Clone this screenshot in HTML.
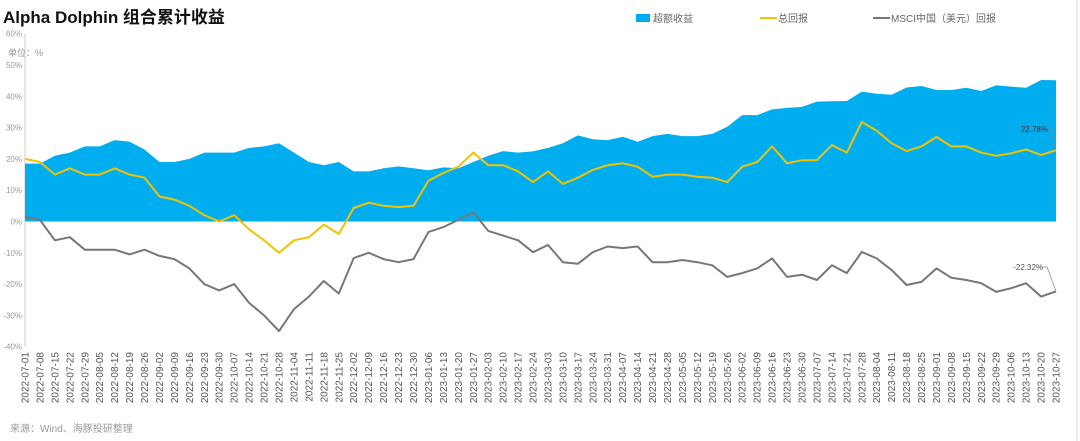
<!DOCTYPE html>
<html><head><meta charset="utf-8"><style>
body{margin:0;background:#fff;}
svg{display:block;font-family:"Liberation Sans","Noto Sans CJK SC",sans-serif;}
</style></head><body>
<svg width="1080" height="441" viewBox="0 0 1080 441">
<text x="3" y="23" font-size="17" font-weight="bold" fill="#111">Alpha Dolphin 组合累计收益</text>
<text x="8" y="56" font-size="9" fill="#999">单位：%</text>
<line x1="1077" y1="0" x2="1077" y2="441" stroke="#ddd"/>
<g>
<rect x="636" y="14" width="14" height="8" fill="#00aeef"/>
<text x="653" y="22" font-size="10" fill="#666">超额收益</text>
<line x1="760" y1="18" x2="777" y2="18" stroke="#f2c300" stroke-width="2"/>
<text x="778" y="22" font-size="10" fill="#666">总回报</text>
<line x1="873" y1="18" x2="890" y2="18" stroke="#777" stroke-width="2"/>
<text x="891" y="22" font-size="10" fill="#666">MSCI中国（美元）回报</text>
</g>
<g id="yaxis"></g>
<g id="plot"></g>
<g id="xaxis"></g>
<text x="10" y="432" font-size="10" fill="#999">来源：Wind、海豚投研整理</text>
</svg>
<script>
const dates=["2022-07-01","2022-07-08","2022-07-15","2022-07-22","2022-07-29","2022-08-05","2022-08-12","2022-08-19","2022-08-26","2022-09-02","2022-09-09","2022-09-16","2022-09-23","2022-09-30","2022-10-07","2022-10-14","2022-10-21","2022-10-28","2022-11-04","2022-11-11","2022-11-18","2022-11-25","2022-12-02","2022-12-09","2022-12-16","2022-12-23","2022-12-30","2023-01-06","2023-01-13","2023-01-20","2023-01-27","2023-02-03","2023-02-10","2023-02-17","2023-02-24","2023-03-03","2023-03-10","2023-03-17","2023-03-24","2023-03-31","2023-04-07","2023-04-14","2023-04-21","2023-04-28","2023-05-05","2023-05-12","2023-05-19","2023-05-26","2023-06-02","2023-06-09","2023-06-16","2023-06-23","2023-06-30","2023-07-07","2023-07-14","2023-07-21","2023-07-28","2023-08-04","2023-08-11","2023-08-18","2023-08-25","2023-09-01","2023-09-08","2023-09-15","2023-09-22","2023-09-29","2023-10-06","2023-10-13","2023-10-20","2023-10-27"];
const totalReturn=[20,19,15,17,15,15,17,15,14,8,7,5,2,0,2,-2.5,-6,-10,-6,-5,-1,-4,4.3,6,5,4.6,5,13,15.5,17.5,22,18,18,16,12.6,16,12,14,16.5,18,18.6,17.5,14.3,15,15,14.3,14,12.6,17.5,19,24,18.6,19.6,19.6,24.4,22,31.8,29,25,22.5,24,27,24,24,22,21,21.8,23,21.2,22.78];
const msciReturn=[1.5,0.5,-6,-5,-9,-9,-9,-10.5,-9,-11,-12,-15,-20,-22,-20,-26,-30,-35,-28,-24,-19,-23,-11.7,-10,-12,-13,-12,-3.4,-1.8,0.5,3,-3,-4.5,-6,-9.8,-7.5,-13,-13.5,-9.8,-8,-8.5,-8,-13,-13,-12.3,-13,-14,-17.7,-16.5,-15,-11.8,-17.7,-17,-18.7,-14,-16.5,-9.7,-11.8,-15.5,-20.3,-19.3,-15,-18,-18.7,-19.7,-22.5,-21.3,-19.7,-24,-22.32];
const yTicks=[60,50,40,30,20,10,0,-10,-20,-30,-40];
const excess=totalReturn.map((v,i)=>v-msciReturn[i]);
const NS="http://www.w3.org/2000/svg";
const X0=25,X1=1056;
const xs=i=>X0+i*(X1-X0)/(dates.length-1);
const ys=v=>221.5-v*3.13;
function mk(tag,attrs,parent){const e=document.createElementNS(NS,tag);for(const k in attrs)e.setAttribute(k,attrs[k]);parent.appendChild(e);return e;}
const yaxis=document.getElementById('yaxis'),plot=document.getElementById('plot'),xaxis=document.getElementById('xaxis');
yTicks.forEach(t=>{
  const tx=mk('text',{x:22,y:ys(t)+3,'font-size':8,fill:'#999','text-anchor':'end'},yaxis);
  tx.textContent=t+'%';
  
  
});
const ax=mk('line',{x1:X0,y1:ys(60),x2:X0,y2:ys(-40),stroke:'#ccc'},yaxis);


let d='M'+xs(0)+','+ys(0);
excess.forEach((v,i)=>{d+='L'+xs(i).toFixed(1)+','+ys(v).toFixed(1);});
d+='L'+xs(excess.length-1)+','+ys(0)+'Z';
const area=mk('path',{d:d,fill:'#00aeef'},plot);


function line(arr,color,name){
  const p=arr.map((v,i)=>(i?'L':'M')+xs(i).toFixed(1)+','+ys(v).toFixed(1)).join('');
  const e=mk('path',{d:p,fill:'none',stroke:color,'stroke-width':2,'stroke-linejoin':'round'},plot);
  
  
}
line(totalReturn,'#f2c300','total-return-line');
line(msciReturn,'#777','msci-return-line');
const n=dates.length-1;
const l1=mk('polyline',{points:`1036,129 1050,129 ${xs(n)},${ys(totalReturn[n])}`,fill:'none',stroke:'#888','stroke-width':0.7},plot);


const a1=mk('text',{x:1048,y:132,'font-size':8,fill:'#333','text-anchor':'end'},plot);
a1.textContent=totalReturn[n].toFixed(2)+'%';


const l2=mk('polyline',{points:`1040,267 1047,267 ${xs(n)},${ys(msciReturn[n])}`,fill:'none',stroke:'#888','stroke-width':0.7},plot);


const a2=mk('text',{x:1043,y:270,'font-size':8,fill:'#555','text-anchor':'end'},plot);
a2.textContent=msciReturn[n].toFixed(2)+'%';


dates.forEach((dt,i)=>{
  const x=xs(i)+3.5;
  const t=mk('text',{x:0,y:0,'font-size':10,fill:'#555','text-anchor':'end',transform:`translate(${x.toFixed(1)},352) rotate(-90)`},xaxis);
  t.textContent=dt;
  
  
});
</script>
</body></html>
